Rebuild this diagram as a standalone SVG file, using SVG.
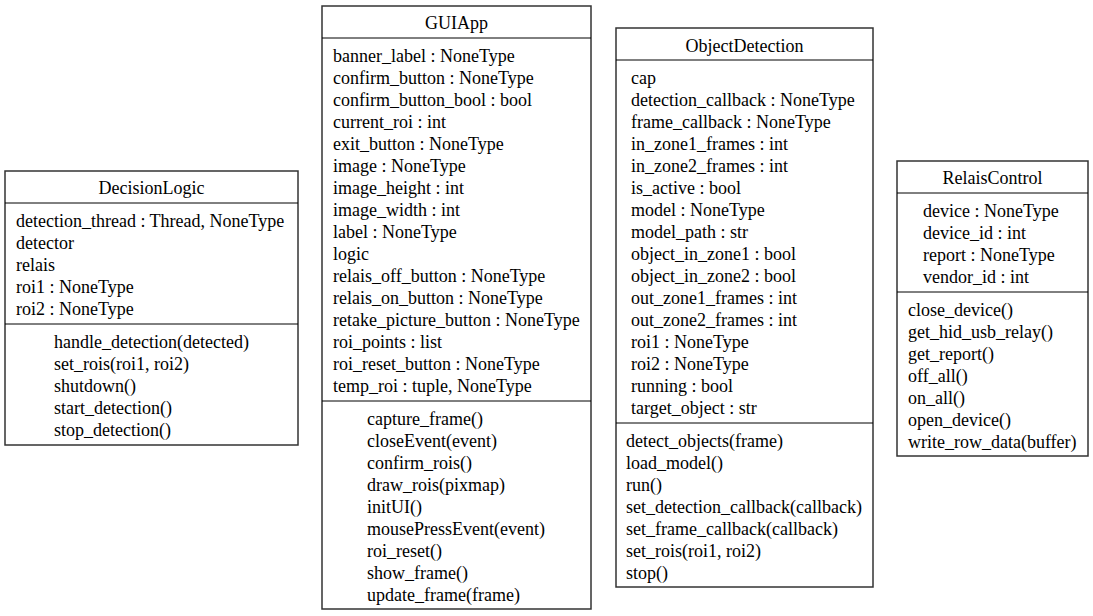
<svg xmlns="http://www.w3.org/2000/svg" width="1093" height="616" viewBox="0 0 1093 616">
<style>
.box{fill:#fff;stroke:#333;stroke-width:1.5}
.sep{stroke:#000;stroke-width:1}
text{font-family:"Liberation Serif","Times New Roman",serif;font-size:18px;fill:#000}
.t{text-anchor:middle}
</style>
<rect width="1093" height="616" fill="#fff"/>
<g id="connectors"></g>
<g id="DecisionLogic">
<rect class="box" x="5" y="171" width="293" height="274"/>
<line class="sep" x1="5" y1="203" x2="298" y2="203"/>
<line class="sep" x1="5" y1="324" x2="298" y2="324"/>
<text class="t" x="151.5" y="194">DecisionLogic</text>
<text x="16" y="227">detection_thread : Thread, NoneType</text>
<text x="16" y="249">detector</text>
<text x="16" y="271">relais</text>
<text x="16" y="293">roi1 : NoneType</text>
<text x="16" y="315">roi2 : NoneType</text>
<text x="54" y="348">handle_detection(detected)</text>
<text x="54" y="370">set_rois(roi1, roi2)</text>
<text x="54" y="392">shutdown()</text>
<text x="54" y="414">start_detection()</text>
<text x="54" y="436">stop_detection()</text>
</g>
<g id="GUIApp">
<rect class="box" x="322" y="6" width="269" height="603"/>
<line class="sep" x1="322" y1="38" x2="591" y2="38"/>
<line class="sep" x1="322" y1="401" x2="591" y2="401"/>
<text class="t" x="456.5" y="29">GUIApp</text>
<text x="333" y="62">banner_label : NoneType</text>
<text x="333" y="84">confirm_button : NoneType</text>
<text x="333" y="106">confirm_button_bool : bool</text>
<text x="333" y="128">current_roi : int</text>
<text x="333" y="150">exit_button : NoneType</text>
<text x="333" y="172">image : NoneType</text>
<text x="333" y="194">image_height : int</text>
<text x="333" y="216">image_width : int</text>
<text x="333" y="238">label : NoneType</text>
<text x="333" y="260">logic</text>
<text x="333" y="282">relais_off_button : NoneType</text>
<text x="333" y="304">relais_on_button : NoneType</text>
<text x="333" y="326">retake_picture_button : NoneType</text>
<text x="333" y="348">roi_points : list</text>
<text x="333" y="370">roi_reset_button : NoneType</text>
<text x="333" y="392">temp_roi : tuple, NoneType</text>
<text x="367" y="425">capture_frame()</text>
<text x="367" y="447">closeEvent(event)</text>
<text x="367" y="469">confirm_rois()</text>
<text x="367" y="491">draw_rois(pixmap)</text>
<text x="367" y="513">initUI()</text>
<text x="367" y="535">mousePressEvent(event)</text>
<text x="367" y="557">roi_reset()</text>
<text x="367" y="579">show_frame()</text>
<text x="367" y="601">update_frame(frame)</text>
</g>
<g id="ObjectDetection">
<rect class="box" x="616" y="28" width="257" height="559"/>
<line class="sep" x1="616" y1="60" x2="873" y2="60"/>
<line class="sep" x1="616" y1="423" x2="873" y2="423"/>
<text class="t" x="744.5" y="52">ObjectDetection</text>
<text x="631" y="84">cap</text>
<text x="631" y="106">detection_callback : NoneType</text>
<text x="631" y="128">frame_callback : NoneType</text>
<text x="631" y="150">in_zone1_frames : int</text>
<text x="631" y="172">in_zone2_frames : int</text>
<text x="631" y="194">is_active : bool</text>
<text x="631" y="216">model : NoneType</text>
<text x="631" y="238">model_path : str</text>
<text x="631" y="260">object_in_zone1 : bool</text>
<text x="631" y="282">object_in_zone2 : bool</text>
<text x="631" y="304">out_zone1_frames : int</text>
<text x="631" y="326">out_zone2_frames : int</text>
<text x="631" y="348">roi1 : NoneType</text>
<text x="631" y="370">roi2 : NoneType</text>
<text x="631" y="392">running : bool</text>
<text x="631" y="414">target_object : str</text>
<text x="626" y="447">detect_objects(frame)</text>
<text x="626" y="469">load_model()</text>
<text x="626" y="491">run()</text>
<text x="626" y="513">set_detection_callback(callback)</text>
<text x="626" y="535">set_frame_callback(callback)</text>
<text x="626" y="557">set_rois(roi1, roi2)</text>
<text x="626" y="579">stop()</text>
</g>
<g id="RelaisControl">
<rect class="box" x="897" y="161" width="191" height="295"/>
<line class="sep" x1="897" y1="193" x2="1088" y2="193"/>
<line class="sep" x1="897" y1="292" x2="1088" y2="292"/>
<text class="t" x="992.5" y="184">RelaisControl</text>
<text x="923" y="217">device : NoneType</text>
<text x="923" y="239">device_id : int</text>
<text x="923" y="261">report : NoneType</text>
<text x="923" y="283">vendor_id : int</text>
<text x="908" y="316">close_device()</text>
<text x="908" y="338">get_hid_usb_relay()</text>
<text x="908" y="360">get_report()</text>
<text x="908" y="382">off_all()</text>
<text x="908" y="404">on_all()</text>
<text x="908" y="426">open_device()</text>
<text x="908" y="448">write_row_data(buffer)</text>
</g>
</svg>
